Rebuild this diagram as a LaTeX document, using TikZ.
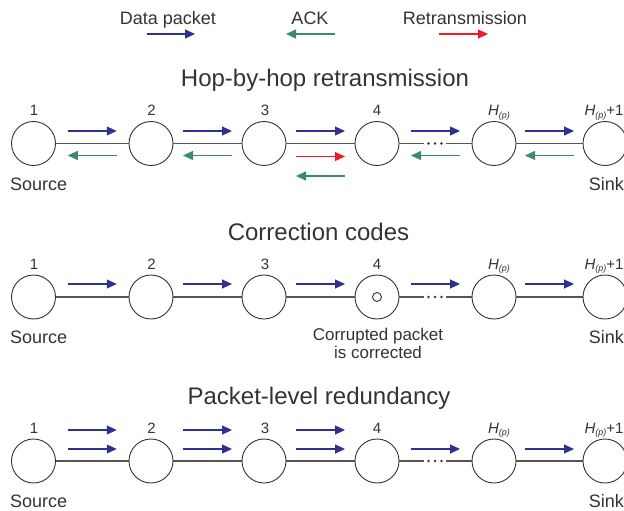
\documentclass[tikz,border=0pt]{standalone}
\usepackage{fontspec}
\setmainfont{Liberation Sans}
\usetikzlibrary{arrows.meta,calc}
\definecolor{dblue}{HTML}{2E3192}
\definecolor{ackc}{HTML}{3B8A72}
\definecolor{rred}{HTML}{EC1C24}
\definecolor{txt}{HTML}{333333}
\definecolor{lnc}{HTML}{555555}
\tikzset{
  nd/.style={circle,draw=txt,line width=0.9pt,minimum size=44pt,inner sep=0pt},
  link/.style={draw=lnc,line width=1.1pt},
  data/.style={draw=dblue,line width=1.1pt,-{Triangle[length=10pt,width=9pt]}},
  ackarr/.style={draw=ackc,line width=1.1pt,-{Triangle[length=10pt,width=9pt]}},
  rearr/.style={draw=rred,line width=1.1pt,-{Triangle[length=10pt,width=9pt]}},
  ttl/.style={text=txt,font=\fontsize{24}{28}\selectfont,anchor=base,inner sep=0pt},
  lbl/.style={text=txt,font=\fontsize{18}{21}\selectfont,anchor=base,inner sep=0pt},
  num/.style={text=txt,font=\fontsize{15}{18}\selectfont,anchor=base,inner sep=0pt},
  dotc/.style={fill=txt}
}
\newcommand\Hp{\textit{H}\raisebox{-0.35ex}{\fontsize{9}{10}\selectfont\textit{(p)}}}
\newcommand\hopfwd[4]{%
  \path ($(#2.east)!.5!(#3.west)$) coordinate (hm);
  \draw[#1] ([shift={(-24.5,#4)}]hm) -- ([shift={(24.5,#4)}]hm);}
\newcommand\hopbwd[4]{%
  \path ($(#2.east)!.5!(#3.west)$) coordinate (hm);
  \draw[#1] ([shift={(24.5,#4)}]hm) -- ([shift={(-24.5,#4)}]hm);}
\begin{document}
\begin{tikzpicture}[x=1pt,y=-1pt]
\useasboundingbox (0,0) rectangle (624,511);
% legend
\node[lbl] (legd) at (168,25) {Data packet};
\node[lbl] (lega) at (310,25) {ACK};
\node[lbl] (legr) at (465,25) {Retransmission};
\coordinate (ld1) at (147,34); \coordinate (ld2) at (195,34);
\coordinate (la1) at (335,34); \coordinate (la2) at (286,34);
\coordinate (lr1) at (439,34); \coordinate (lr2) at (488,34);
\draw[data] (ld1) -- (ld2);
\draw[ackarr] (la1) -- (la2);
\draw[rearr] (lr1) -- (lr2);
% titles
\node[ttl] (t1) at (325,87) {Hop-by-hop retransmission};
\node[ttl] (t2) at (318.5,240) {Correction codes};
\node[ttl] (t3) at (319,404) {Packet-level redundancy};
% nodes
\foreach \r/\y in {a/143.5,b/297,c/461}{
  \foreach \i/\x in {1/33.5,2/151,3/264,4/377,5/494,6/605}{
    \node[nd] (\r\i) at (\x,\y) {};
  }
  \node[num] (\r n1) at (34,\y-28) {1};
  \node[num] (\r n2) at (151.5,\y-28) {2};
  \node[num] (\r n3) at (265,\y-28) {3};
  \node[num] (\r n4) at (377,\y-28) {4};
  \node[num] (\r n5) at (499,\y-28) {\Hp};
  \node[num] (\r n6) at (604,\y-28) {\Hp+1};
  \node[lbl,anchor=base west] (\r src) at (10,\y+46.5) {Source};
  \node[lbl,anchor=base east] (\r snk) at (624,\y+46.5) {Sink};
  \coordinate (\r d1) at (424,\y);
  \coordinate (\r d2) at (446,\y);
  \draw[link] (\r1) -- (\r2);
  \draw[link] (\r2) -- (\r3);
  \draw[link] (\r3) -- (\r4);
  \draw[link] (\r4) -- (\r d1);
  \draw[link] (\r d2) -- (\r5);
  \draw[link] (\r5) -- (\r6);
  \fill[dotc] (428.5,\y) circle (1.4pt) (435,\y) circle (1.4pt) (441.5,\y) circle (1.4pt);
}
% row 1 arrows
\hopfwd{data}{a1}{a2}{-12.5}
\hopfwd{data}{a2}{a3}{-12.5}
\hopfwd{data}{a3}{a4}{-12.5}
\hopfwd{data}{a4}{a5}{-12.5}
\hopfwd{data}{a5}{a6}{-12.5}
\hopbwd{ackarr}{a1}{a2}{12}
\hopbwd{ackarr}{a2}{a3}{12}
\hopfwd{rearr}{a3}{a4}{13}
\hopbwd{ackarr}{a3}{a4}{32.5}
\hopbwd{ackarr}{a4}{a5}{12}
\hopbwd{ackarr}{a5}{a6}{12}
% row 2
\foreach \p/\q in {b1/b2,b2/b3,b3/b4,b4/b5,b5/b6}{\hopfwd{data}{\p}{\q}{-13}}
\node[circle,draw=txt,line width=0.9pt,minimum size=9pt,inner sep=0pt] (bin) at (b4) {};
\node[lbl,font=\fontsize{17}{20}\selectfont] (cp1) at (378,340) {Corrupted packet};
\node[lbl,font=\fontsize{17}{20}\selectfont] (cp2) at (378,358) {is corrected};
% row 3
\foreach \p/\q in {c1/c2,c2/c3,c3/c4}{\hopfwd{data}{\p}{\q}{-31}}
\foreach \p/\q in {c1/c2,c2/c3,c3/c4,c4/c5,c5/c6}{\hopfwd{data}{\p}{\q}{-12}}
\end{tikzpicture}
\end{document}
